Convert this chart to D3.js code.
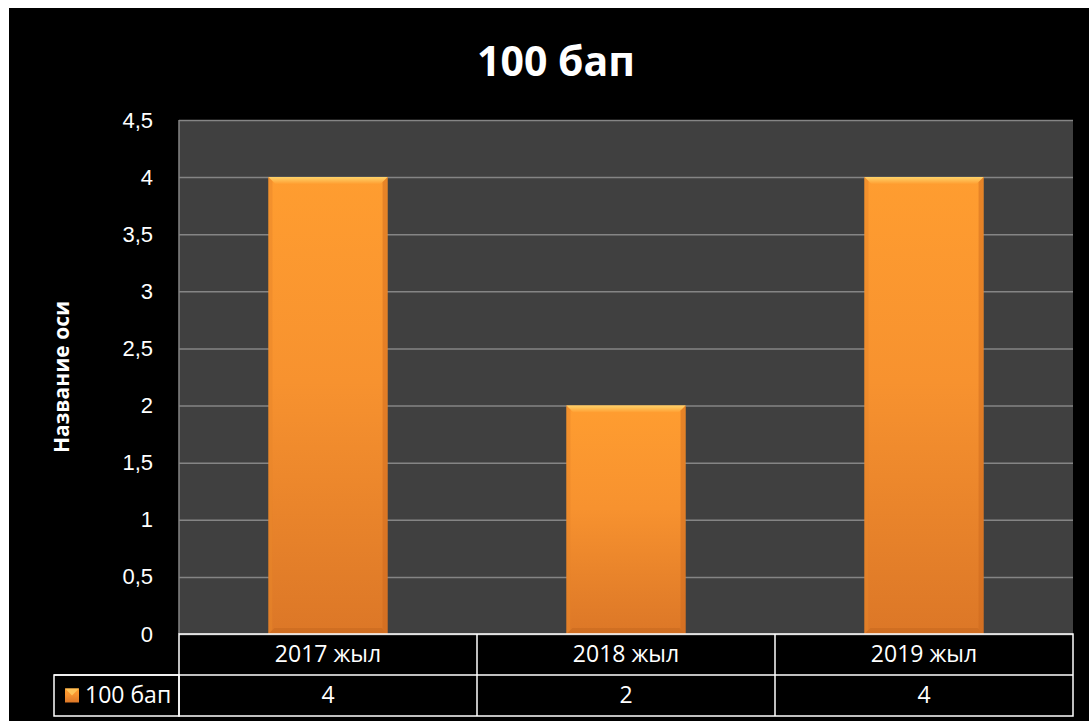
<!DOCTYPE html>
<html>
<head>
<meta charset="utf-8">
<script src="https://cdn.jsdelivr.net/npm/d3@7"></script>
<style>
  body { margin: 0; background: #fff; }
  svg { display: block; font-family: "Open Sans", "Noto Sans", sans-serif; }
</style>
</head>
<body>
<div id="chart"></div>
<script>
const categories = ["2017 жыл", "2018 жыл", "2019 жыл"];
const values = [4, 2, 4];
const seriesName = "100 бап";
const yTicks = [0, 0.5, 1, 1.5, 2, 2.5, 3, 3.5, 4, 4.5];
const chartTitle = "100 бап";
const yTitle = "Название оси";

const W = 1089, H = 721;
const plot = {left: 179, right: 1073, top: 120, bottom: 634};
const rowH = 41;
const legendLeft = 54;
const gridColor = "#858585";
const fontSize = "22px";
const tableFont = "23px";

const svg = d3.select("#chart")
              .append("svg")
              .attr("width", W)
              .attr("height", H);

// gradients
const defs = svg.append("defs");
const grad = defs.append("linearGradient")
                 .attr("id", "barGrad")
                 .attr("x1", 0).attr("y1", 0).attr("x2", 0).attr("y2", 1);
grad.append("stop").attr("offset", "0%").attr("stop-color", "#ff9d30");
grad.append("stop").attr("offset", "45%").attr("stop-color", "#f7922f");
grad.append("stop").attr("offset", "100%").attr("stop-color", "#dc7727");

const topGrad = defs.append("linearGradient")
                    .attr("id", "topGrad")
                    .attr("x1", 0).attr("y1", 0).attr("x2", 0).attr("y2", 1);
topGrad.append("stop").attr("offset", "0%").attr("stop-color", "#ffd36a");
topGrad.append("stop").attr("offset", "100%").attr("stop-color", "#ff9d30");

// background
svg.append("rect")
   .attr("x", 9).attr("y", 8)
   .attr("width", W - 9).attr("height", H - 8)
   .attr("fill", "#000");

// plot area
svg.append("rect")
   .attr("x", plot.left).attr("y", plot.top)
   .attr("width", plot.right - plot.left)
   .attr("height", plot.bottom - plot.top)
   .attr("fill", "#404040");

const xScale = d3.scaleBand()
                 .domain(categories)
                 .range([plot.left, plot.right])
                 .paddingInner(0)
                 .paddingOuter(0);

const yScale = d3.scaleLinear()
                 .domain([0, 4.5])
                 .range([plot.bottom, plot.top]);

const fmt = d => String(d).replace(".", ",");

// Y axis with gridlines
svg.append("g")
   .attr("transform", `translate(${plot.left}, 0)`)
   .call(d3.axisLeft(yScale).tickValues(yTicks).tickSize(-(plot.right - plot.left)).tickPadding(26).tickFormat(fmt))
   .call(g => {
        g.select(".domain").remove();
        g.selectAll("line").attr("stroke", gridColor).attr("stroke-width", 1.5);
        g.selectAll("text").attr("fill", "#fff").style("font-size", fontSize);
   });

// plot border (left side)
svg.append("line")
   .attr("x1", plot.left).attr("x2", plot.left)
   .attr("y1", plot.top).attr("y2", plot.bottom)
   .attr("stroke", gridColor).attr("stroke-width", 1.5);

// Bars
const barW = xScale.bandwidth() * 0.4;
const bars = svg.append("g")
   .selectAll("g")
   .data(values)
   .join("g")
   .attr("transform", (d, i) => `translate(${xScale(categories[i]) + (xScale.bandwidth() - barW) / 2}, 0)`);

bars.append("rect")
    .attr("x", 0)
    .attr("y", d => yScale(d))
    .attr("width", barW)
    .attr("height", d => yScale(0) - yScale(d))
    .attr("fill", "url(#barGrad)");

// bevel: top highlight
bars.append("path")
    .attr("d", d => {
        const y = yScale(d), b = 7;
        return `M0,${y} L${barW},${y} L${barW - b},${y + b} L${b},${y + b} Z`;
    })
    .attr("fill", "url(#topGrad)");

// bevel: side shading
bars.append("path")
    .attr("d", d => {
        const y = yScale(d), y0 = yScale(0), b = 5;
        return `M${barW},${y} L${barW},${y0} L${barW - b},${y0 - b} L${barW - b},${y + b} Z`;
    })
    .attr("fill", "#c9661c").attr("opacity", 0.45);

bars.append("path")
    .attr("d", d => {
        const y = yScale(d), y0 = yScale(0), b = 4;
        return `M0,${y} L0,${y0} L${b},${y0 - b} L${b},${y + b} Z`;
    })
    .attr("fill", "#e8852a").attr("opacity", 0.5);

bars.append("path")
    .attr("d", d => {
        const y0 = yScale(0), b = 6;
        return `M0,${y0} L${barW},${y0} L${barW - b},${y0 - b} L${b},${y0 - b} Z`;
    })
    .attr("fill", "#c8691f").attr("opacity", 0.6);

// Data table
const table = svg.append("g");
const lineStyle = sel => sel.attr("stroke", "#fff").attr("stroke-width", 1.5).attr("fill", "none");

table.append("rect")
     .attr("x", plot.left).attr("y", plot.bottom)
     .attr("width", plot.right - plot.left).attr("height", rowH * 2)
     .call(lineStyle);
table.append("line")
     .attr("x1", legendLeft).attr("x2", plot.right)
     .attr("y1", plot.bottom + rowH).attr("y2", plot.bottom + rowH)
     .call(lineStyle);
table.append("rect")
     .attr("x", legendLeft).attr("y", plot.bottom + rowH)
     .attr("width", plot.left - legendLeft).attr("height", rowH)
     .call(lineStyle);
table.selectAll(".col")
     .data(categories.slice(1))
     .join("line")
     .attr("x1", d => xScale(d)).attr("x2", d => xScale(d))
     .attr("y1", plot.bottom).attr("y2", plot.bottom + rowH * 2)
     .call(lineStyle);

table.selectAll(".cat")
     .data(categories)
     .join("text")
     .attr("x", d => xScale(d) + xScale.bandwidth() / 2)
     .attr("y", plot.bottom + rowH / 2)
     .attr("dy", "0.33em")
     .attr("text-anchor", "middle")
     .attr("fill", "#fff")
     .style("font-size", tableFont)
     .text(d => d);

table.selectAll(".val")
     .data(values)
     .join("text")
     .attr("x", (d, i) => xScale(categories[i]) + xScale.bandwidth() / 2)
     .attr("y", plot.bottom + rowH * 1.5)
     .attr("dy", "0.33em")
     .attr("text-anchor", "middle")
     .attr("fill", "#fff")
     .style("font-size", tableFont)
     .text(d => d);

// legend key
table.append("rect")
     .attr("x", 65).attr("y", plot.bottom + rowH * 1.5 - 7)
     .attr("width", 14).attr("height", 14)
     .attr("fill", "url(#barGrad)");
table.append("path")
     .attr("d", `M65,${plot.bottom + rowH * 1.5 - 7} l14,0 l-7,7 Z`)
     .attr("fill", "#ffc257");
table.append("text")
     .attr("x", 85)
     .attr("y", plot.bottom + rowH * 1.5)
     .attr("dy", "0.33em")
     .attr("fill", "#fff")
     .style("font-size", tableFont)
     .text(seriesName);

// Title
svg.append("text")
   .attr("x", 556).attr("y", 62)
   .attr("dy", "0.35em")
   .attr("text-anchor", "middle")
   .attr("fill", "#fff")
   .style("font-size", "41px")
   .style("font-weight", "bold")
   .text(chartTitle);

// Y axis title
svg.append("text")
   .attr("transform", `translate(62, ${(plot.top + plot.bottom) / 2}) rotate(-90)`)
   .attr("dy", "0.35em")
   .attr("text-anchor", "middle")
   .attr("fill", "#fff")
   .style("font-size", "21px")
   .style("font-weight", "bold")
   .text(yTitle);
</script>
</body>
</html>
